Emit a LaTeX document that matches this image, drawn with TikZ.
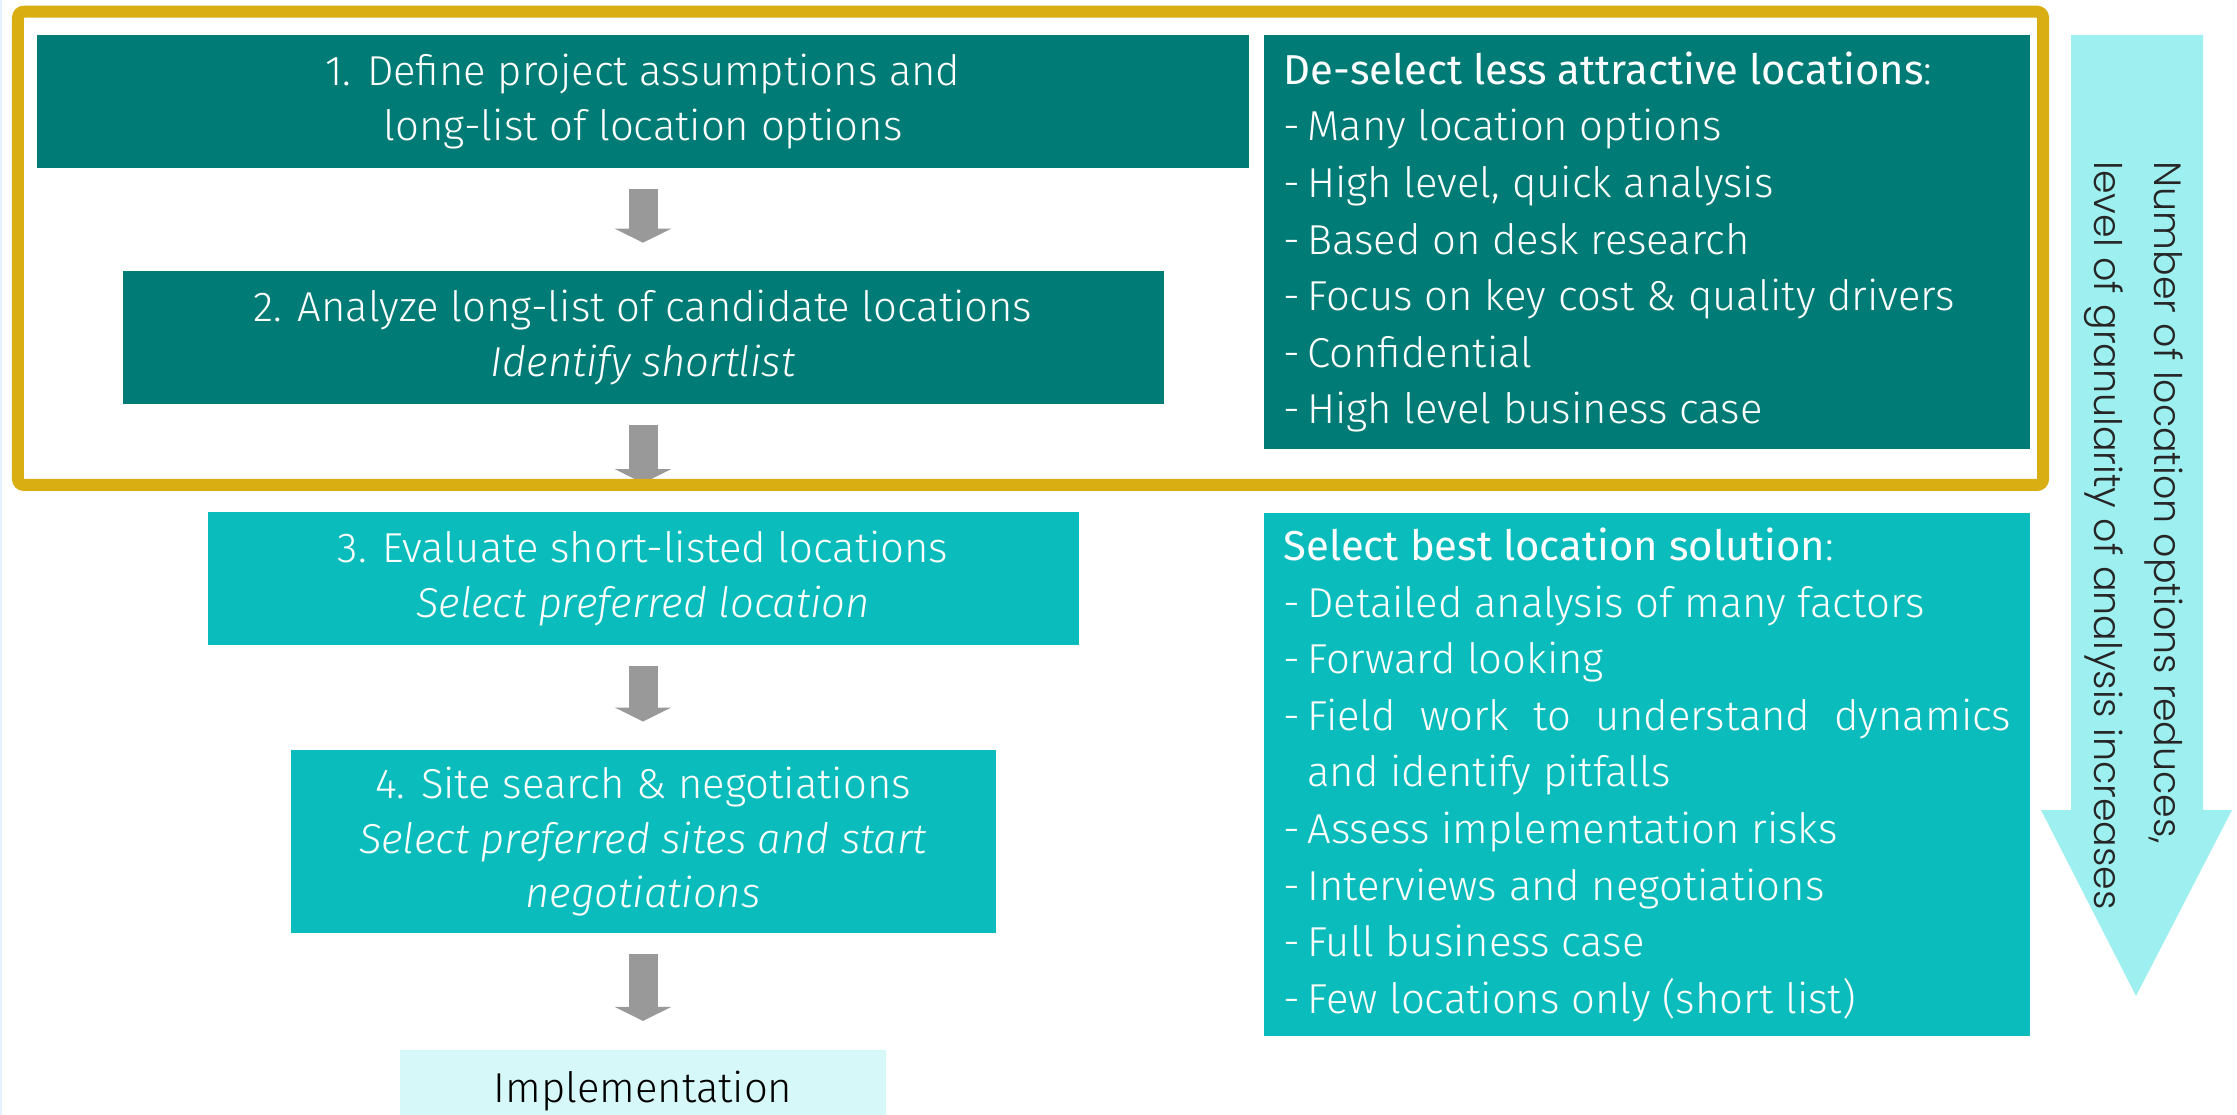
\documentclass[tikz,border=0pt]{standalone}
\usepackage{fontspec}
\setmainfont{Fira Sans}[UprightFont={* Light},ItalicFont={* Light Italic},BoldFont={*}]
\newfontfamily\sidefont{Poppins}[UprightFont={* Light}]
\usetikzlibrary{arrows.meta,positioning}

\definecolor{tealdark}{HTML}{007B75}
\definecolor{teallight}{HTML}{0ABDBC}
\definecolor{tealpale}{HTML}{D7F8F8}
\definecolor{cyanarrow}{HTML}{9EEFEF}
\definecolor{goldframe}{HTML}{D9AE12}
\definecolor{arrowgray}{HTML}{999999}
\definecolor{edgeblue}{HTML}{E6F3FF}

% one bullet line with a hanging dash
\newcommand{\itm}[1]{\par\hangindent=0.24cm\hangafter=1\noindent\makebox[0.24cm][l]{-}#1}

\begin{document}
\begin{tikzpicture}[
    stepbox/.style={
      rectangle, fill=tealdark, text=white, inner sep=0pt,
      minimum height=1.33cm, align=center,
      font=\fontsize{11.9}{15.6}\selectfont
    },
    listbox/.style={
      rectangle, text=white, text width=7.28cm,
      inner xsep=0.19cm, inner ysep=0pt, align=justify,
      font=\fontsize{11.9}{16.1}\selectfont
    },
    flow/.style={
      arrowgray, line width=0.29cm,
      -{Triangle[width=0.56cm,length=0.14cm]},
      shorten <=0.2cm, shorten >=0.28cm
    },
    frame/.style={draw=goldframe, line width=0.12cm, rounded corners=0.06cm},
    sidetext/.style={
      font=\sidefont\fontsize{10.8}{17}\selectfont,
      text=black!85, align=left, inner sep=0pt
    }
  ]
  \useasboundingbox (0,0) rectangle (22.37,-11.15);
  \fill[edgeblue] (0,0) rectangle (0.025,-11.15);

  % Left column -- the four steps
  \node[stepbox, minimum width=12.12cm] (define) at (6.43,-1.015)
    {1. Define project assumptions and\\ long-list of location options};
  \node[stepbox, minimum width=10.41cm, below=1.02cm of define] (analyze)
    {2. Analyze long-list of candidate locations\\ \textit{Identify shortlist}};
  \node[stepbox, fill=teallight, minimum width=8.71cm, below=1.06cm of analyze] (evaluate)
    {3. Evaluate short-listed locations\\ \textit{Select preferred location}};
  \node[stepbox, fill=teallight, minimum width=7.05cm, minimum height=1.83cm,
    below=1.04cm of evaluate] (site)
    {4. Site search \& negotiations\\ \textit{Select preferred sites and start}\\ \textit{negotiations}};
  \node[stepbox, fill=tealpale, text=black, minimum width=4.86cm, minimum height=0.82cm,
    below=1.15cm of site] (impl) {Implementation};

  % Right column -- what each phase covers
  \node[listbox, fill=tealdark, minimum height=4.14cm,
    right=0.14cm of define.north east, anchor=north west] (deselect)
    {{\bfseries De-select less attractive locations}:
     \itm{Many location options}
     \itm{High level, quick analysis}
     \itm{Based on desk research}
     \itm{Focus on key cost \& quality drivers}
     \itm{Confidential}
     \itm{High level business case}};
  \node[listbox, fill=teallight, minimum height=5.23cm, below=0.63cm of deselect] (best)
    {{\bfseries Select best location solution}:
     \itm{Detailed analysis of many factors}
     \itm{Forward looking}
     \itm{Field work to understand dynamics\linebreak and identify pitfalls}
     \itm{Assess implementation risks}
     \itm{Interviews and negotiations}
     \itm{Full business case}
     \itm{Few locations only (short list)}};

  % Arrows between steps
  \draw[flow] (define) -- (analyze);
  \draw[flow] (analyze) -- (evaluate);
  \draw[flow] (evaluate) -- (site);
  \draw[flow] (site) -- (impl);

  % Gold frame round the first phase
  \draw[frame] (0.18,-0.117) rectangle (20.43,-4.85);

  % Big arrow on the right
  \fill[cyanarrow] (20.71,-0.35) -- (22.03,-0.35) -- (22.03,-8.10) -- (22.32,-8.10)
    -- (21.36,-9.96) -- (20.41,-8.10) -- (20.71,-8.10) -- cycle;
  \node[sidetext, rotate=-90, anchor=west] (trend) at (21.34,-1.61)
    {Number of location options reduces,\\ level of granularity of analysis increases};
\end{tikzpicture}
\end{document}
